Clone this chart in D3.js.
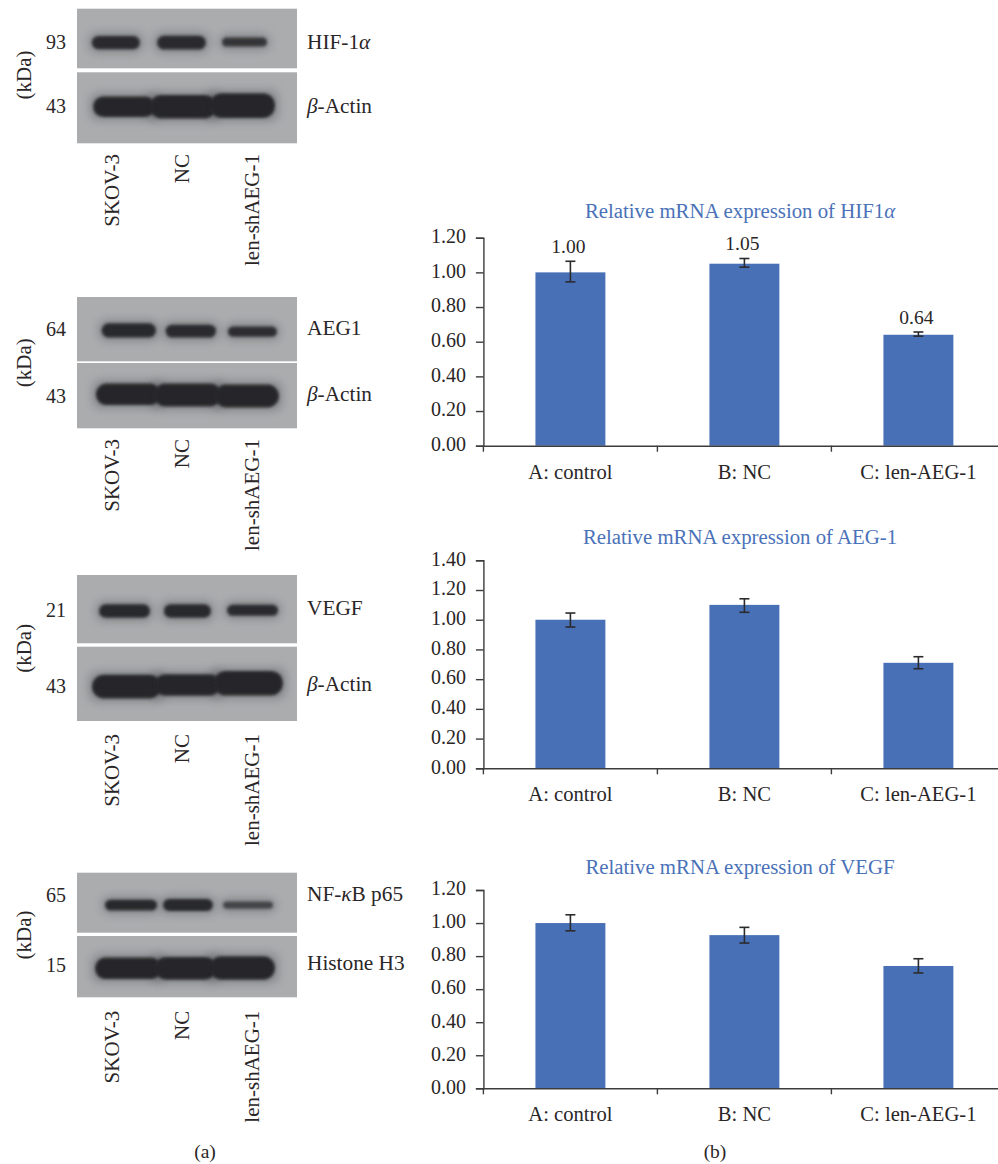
<!DOCTYPE html>
<html>
<head>
<meta charset="utf-8">
<script src="https://cdn.jsdelivr.net/npm/d3@7"></script>
<style>
  html, body { margin: 0; padding: 0; background: #fff; }
  svg { display: block; }
  text { font-family: "Liberation Serif", serif; fill: #2a2627; }
</style>
</head>
<body>
<div id="figure"></div>
<script>
// bar charts (panel b)
const categories = ["A: control", "B: NC", "C: len-AEG-1"];

const hifValues = [1.00, 1.05, 0.64];
const hifErrHigh = [1.064, 1.08, 0.656];
const hifErrLow = [0.945, 1.03, 0.632];
const hifLabels = ["1.00", "1.05", "0.64"];
const hifTicks = [0, 0.2, 0.4, 0.6, 0.8, 1.0, 1.2];

const aegValues = [1.00, 1.10, 0.71];
const aegErrHigh = [1.045, 1.141, 0.751];
const aegErrLow = [0.951, 1.05, 0.67];
const aegTicks = [0, 0.2, 0.4, 0.6, 0.8, 1.0, 1.2, 1.4];

const vegfValues = [1.00, 0.927, 0.74];
const vegfErrHigh = [1.05, 0.974, 0.784];
const vegfErrLow = [0.953, 0.879, 0.698];
const vegfTicks = [0, 0.2, 0.4, 0.6, 0.8, 1.0, 1.2];

// western blots (panel a)
const lanes = ["SKOV-3", "NC", "len-shAEG-1"];

// each band: from, to, middle, thickness (percent of the blot strip), darkness
const hifBands = [[6.7, 28.6, 57, 22, 0.95], [36.4, 58.6, 57, 23, 0.95], [65.9, 86.4, 56, 15, 0.85]];
const hifActin = [[7.3, 35.6, 48.5, 29, 1], [33, 63.3, 48.5, 33, 1], [60.3, 90, 47, 35, 1]];
const aegBands = [[11.2, 35.9, 52, 22, 0.97], [40.3, 63.2, 53, 20, 0.95], [68.6, 90.9, 54, 16, 0.92]];
const aegActin = [[8.6, 37.9, 48, 33, 1], [34.9, 65.6, 49, 35, 1], [62.6, 91.8, 50.5, 35, 1]];
const vegfBands = [[10, 33.2, 52.7, 20, 0.97], [39.5, 60.9, 52.7, 20, 0.97], [68.2, 91.4, 51.7, 16, 0.95]];
const vegfActin = [[6.8, 38.3, 53.8, 32, 1], [35.3, 65.1, 51.5, 29, 1], [62.1, 93.6, 49.3, 33, 1]];
const p65Bands = [[12.7, 36.4, 54, 18, 0.97], [39.1, 61.8, 54, 20, 0.97], [66.4, 89.1, 54, 12, 0.7]];
const h3Bands = [[8.2, 38.3, 52.7, 35, 1], [35.3, 63.3, 52.7, 37, 1], [60.3, 90, 52.2, 38, 1]];

const svg = d3.select("#figure").append("svg")
    .attr("width", 998)
    .attr("height", 1164);

const defs = svg.append("defs");
defs.append("filter").attr("id", "bandBlur")
    .attr("x", "-20%").attr("y", "-60%").attr("width", "140%").attr("height", "220%")
  .append("feGaussianBlur").attr("stdDeviation", 1.6);
defs.append("filter").attr("id", "haloBlur")
    .attr("x", "-30%").attr("y", "-150%").attr("width", "160%").attr("height", "400%")
  .append("feGaussianBlur").attr("stdDeviation", 5);

const stripLeft = 77, stripRight = 297;
const gelX = d3.scaleLinear().domain([0, 100]).range([stripLeft, stripRight]);

function drawStrip(top, bottom, bands, mw, name, nameY, mwY) {
  const gelY = d3.scaleLinear().domain([0, 100]).range([top, bottom]);
  const gelH = d3.scaleLinear().domain([0, 100]).range([0, bottom - top]);
  const clipId = "clip" + Math.round(top);

  defs.append("clipPath").attr("id", clipId)
    .append("rect").attr("x", stripLeft).attr("y", top)
      .attr("width", stripRight - stripLeft).attr("height", bottom - top);

  svg.append("rect")
      .attr("x", stripLeft).attr("y", top)
      .attr("width", stripRight - stripLeft).attr("height", bottom - top)
      .attr("fill", "#aaacae");

  const g = svg.append("g").attr("clip-path", `url(#${clipId})`);

  // soft exposure halo round the bands
  g.selectAll(".halo").data(bands).enter().append("rect")
      .attr("class", "halo")
      .attr("x", d => gelX(d[0]) - 3)
      .attr("width", d => gelX(d[1]) - gelX(d[0]) + 6)
      .attr("y", d => gelY(d[2]) - gelH(d[3]) / 2 - 3)
      .attr("height", d => gelH(d[3]) + 6)
      .attr("rx", 8)
      .attr("fill", "#55565a")
      .attr("opacity", 0.45)
      .attr("filter", "url(#haloBlur)");

  g.selectAll(".band").data(bands).enter().append("rect")
      .attr("class", "band")
      .attr("x", d => gelX(d[0]))
      .attr("width", d => gelX(d[1]) - gelX(d[0]))
      .attr("y", d => gelY(d[2]) - gelH(d[3]) / 2)
      .attr("height", d => gelH(d[3]))
      .attr("rx", d => Math.min(gelH(d[3]) / 2, 12))
      .attr("fill", "#28282b")
      .attr("opacity", d => d[4])
      .attr("filter", "url(#bandBlur)");

  svg.append("text")
      .attr("x", 66).attr("y", mwY - 1)
      .attr("dy", "0.35em")
      .attr("text-anchor", "end")
      .style("font-size", "20px")
      .text(mw);

  const label = svg.append("text")
      .attr("x", 307).attr("y", nameY - 1)
      .attr("dy", "0.35em")
      .style("font-size", "21.3px");
  name.forEach(part => {
    label.append("tspan")
        .style("font-style", part[1] ? "italic" : "normal")
        .text(part[0]);
  });
}

function drawLaneLabels(labelTop, kdaY) {
  svg.append("text")
      .attr("transform", `translate(24,${kdaY}) rotate(-90)`)
      .attr("dy", "0.35em")
      .attr("text-anchor", "middle")
      .style("font-size", "21px")
      .text("(kDa)");

  const laneX = d3.scalePoint().domain(lanes).range([111.7, 251.7]);
  svg.selectAll(null).data(lanes).enter().append("text")
      .attr("transform", d => `translate(${laneX(d)},${labelTop}) rotate(-90)`)
      .attr("dy", "0.35em")
      .attr("text-anchor", "end")
      .style("font-size", "21px")
      .text(d => d);
}

const actinName = [["β", true], ["-Actin", false]];

drawStrip(8.7, 68.3, hifBands, "93", [["HIF-1", false], ["α", true]], 42.7, 42.7);
drawStrip(72.3, 143.3, hifActin, "43", actinName, 106.7, 106.7);
drawLaneLabels(154, 75);

drawStrip(297, 361.3, aegBands, "64", [["AEG1", false]], 329, 330);
drawStrip(363, 428.3, aegActin, "43", actinName, 395, 396.7);
drawLaneLabels(439, 362.7);

drawStrip(575, 643.3, vegfBands, "21", [["VEGF", false]], 608.3, 611);
drawStrip(646.7, 721, vegfActin, "43", actinName, 685, 686.7);
drawLaneLabels(734, 648.3);

drawStrip(872.7, 932.7, p65Bands, "65", [["NF-", false], ["κ", true], ["B p65", false]], 895, 896);
drawStrip(936, 997.3, h3Bands, "15", [["Histone H3", false]], 964, 965.7);
drawLaneLabels(1010.7, 935);

// panel b charts
function drawChart(opts) {
  const x = d3.scaleBand()
      .domain(categories)
      .range([483.4, 1005.4])
      .paddingInner(0.598)
      .paddingOuter(0.299);

  const y = d3.scaleLinear()
      .domain([0, opts.ticks[opts.ticks.length - 1]])
      .range([opts.bottom, opts.top]);

  const g = svg.append("g");

  g.append("text")
      .attr("x", 740).attr("y", opts.titleY - 1)
      .attr("dy", "0.35em")
      .attr("text-anchor", "middle")
      .style("font-size", "20.8px")
      .style("fill", "#4a72b8")
      .selectAll("tspan").data(opts.title).enter().append("tspan")
        .style("font-style", d => d[1] ? "italic" : "normal")
        .style("fill", "#4a72b8")
        .text(d => d[0]);

  g.selectAll(".bar").data(categories).enter().append("rect")
      .attr("class", "bar")
      .attr("x", d => x(d))
      .attr("width", x.bandwidth())
      .attr("y", (d, i) => y(opts.values[i]))
      .attr("height", (d, i) => y(0) - y(opts.values[i]))
      .attr("fill", "#4870b6");

  // y axis
  const yAxis = g.append("g")
      .attr("transform", "translate(483.4,0)")
      .call(d3.axisLeft(y).tickValues(opts.ticks).tickFormat(d3.format(".2f")).tickSize(7.5).tickPadding(10));
  yAxis.selectAll("text")
      .attr("dy", "0.24em")
      .style("font-size", "20px")
      .style("font-family", "Liberation Serif");

  // x axis, labels under the bars and tick marks between the categories
  const xAxis = g.append("g")
      .attr("transform", `translate(0,${opts.bottom})`)
      .call(d3.axisBottom(x).tickSize(0).tickPadding(18.5));
  xAxis.selectAll("text").style("font-size", "20.6px").style("font-family", "Liberation Serif");
  g.selectAll(".xTick").data(categories).enter().append("line")
      .attr("class", "xTick")
      .attr("x1", d => x(d) - x.step() * x.paddingInner() / 2)
      .attr("x2", d => x(d) - x.step() * x.paddingInner() / 2)
      .attr("y1", opts.bottom)
      .attr("y2", opts.bottom + 6);

  g.selectAll(".domain, .tick line, .xTick")
      .attr("stroke", "#3c3c3e")
      .attr("stroke-width", 1.4);

  // error bars
  const errs = g.selectAll(".err").data(categories).enter().append("g")
      .attr("class", "err")
      .attr("stroke", "#2b2b2e")
      .attr("stroke-width", 1.6);
  const mid = d => x(d) + x.bandwidth() / 2;
  errs.append("line")
      .attr("x1", mid).attr("x2", mid)
      .attr("y1", (d, i) => y(opts.errHigh[i]))
      .attr("y2", (d, i) => y(opts.errLow[i]));
  errs.append("line")
      .attr("x1", d => mid(d) - 5).attr("x2", d => mid(d) + 5)
      .attr("y1", (d, i) => y(opts.errHigh[i]))
      .attr("y2", (d, i) => y(opts.errHigh[i]));
  errs.append("line")
      .attr("x1", d => mid(d) - 5).attr("x2", d => mid(d) + 5)
      .attr("y1", (d, i) => y(opts.errLow[i]))
      .attr("y2", (d, i) => y(opts.errLow[i]));

  if (opts.labels) {
    g.selectAll(".valueLabel").data(categories).enter().append("text")
        .attr("class", "valueLabel")
        .attr("x", d => mid(d) - 2)
        .attr("y", (d, i) => y(opts.errHigh[i]) - 15)
        .attr("dy", "0.35em")
        .attr("text-anchor", "middle")
        .style("font-size", "19.5px")
        .text((d, i) => opts.labels[i]);
  }
}

drawChart({
  title: [["Relative mRNA expression of HIF1", false], ["α", true]],
  titleY: 211.7, top: 237.7, bottom: 445.7,
  values: hifValues, errHigh: hifErrHigh, errLow: hifErrLow,
  ticks: hifTicks, labels: hifLabels
});
drawChart({
  title: [["Relative mRNA expression of AEG-1", false]],
  titleY: 537.3, top: 560.3, bottom: 768.3,
  values: aegValues, errHigh: aegErrHigh, errLow: aegErrLow,
  ticks: aegTicks
});
drawChart({
  title: [["Relative mRNA expression of VEGF", false]],
  titleY: 867.3, top: 890, bottom: 1088.3,
  values: vegfValues, errHigh: vegfErrHigh, errLow: vegfErrLow,
  ticks: vegfTicks
});

svg.append("text").attr("x", 205).attr("y", 1151.5).attr("dy", "0.35em")
    .attr("text-anchor", "middle").style("font-size", "19.5px").text("(a)");
svg.append("text").attr("x", 715).attr("y", 1151.5).attr("dy", "0.35em")
    .attr("text-anchor", "middle").style("font-size", "19.5px").text("(b)");
</script>
</body>
</html>
